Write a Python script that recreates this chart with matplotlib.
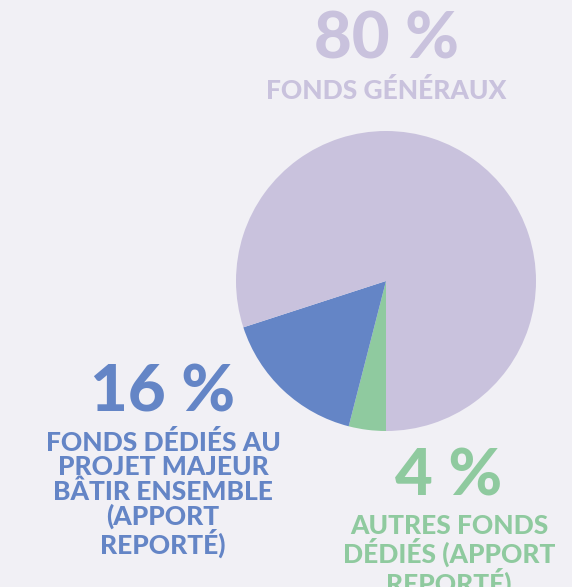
import matplotlib.pyplot as plt

# data
labels = ["AUTRES FONDS\nDÉDIÉS (APPORT\nREPORTÉ)",
          "FONDS DÉDIÉS AU\nPROJET MAJEUR\nBÂTIR ENSEMBLE\n(APPORT\nREPORTÉ)",
          "FONDS GÉNÉRAUX"]
shares = [4, 16, 80]
colors = ["#8FCA9F", "#6485C6", "#C9C2DD"]

BG = "#F1F0F5"
W, H = 572, 587

fig = plt.figure(figsize=(W / 100, H / 100), dpi=100, facecolor=BG)
ax = fig.add_axes([0, 0, 1, 1])
ax.set_facecolor(BG)

ax.pie(shares, colors=colors, startangle=-90, counterclock=False,
       center=(386, H - 281), radius=150, wedgeprops=dict(linewidth=0))
ax.set_xlim(0, W)
ax.set_ylim(0, H)
ax.set_aspect("equal")
ax.axis("off")

font = "Lato"
# big percentages and their labels (pixel positions from top-left)
spots = [
    # (pct x, pct y, label x, label top y)
    (449, 477, 449, 514),   # 4 %
    (163, 393, 163, 430),   # 16 %
    (386, 40, 386, 78),     # 80 %
]
for share, lab, col, (px, py, lx, ly) in zip(shares, labels, colors, spots):
    ax.text(px, H - py, f"{share} %", color=col, fontsize=47, family=font,
            fontweight="black", ha="center", va="center")
    ax.text(lx, H - ly, lab, color=col, fontsize=19, family=font,
            fontweight="black", ha="center", va="top", linespacing=1.0)

fig.savefig("out.png", dpi=100, facecolor=BG)
